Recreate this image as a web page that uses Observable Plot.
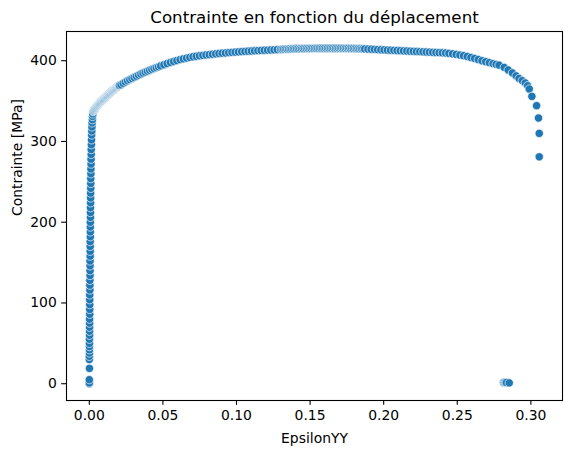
<!DOCTYPE html>
<html><head><meta charset="utf-8">
<script src="https://cdn.jsdelivr.net/npm/d3@7"></script>
<script src="https://cdn.jsdelivr.net/npm/@observablehq/plot@0.6"></script>
<style>body{margin:0;background:#fff}</style>
</head><body><div id="chart"></div>
<script>
const title = "Contrainte en fonction du déplacement";
const xLabel = "EpsilonYY";
const yLabel = "Contrainte [MPa]";
const xTicks = [0, 0.05, 0.10, 0.15, 0.20, 0.25, 0.30];
const yTicks = [0, 100, 200, 300, 400];

// Elastic part
const elasticStrain = [0.0000,0.0000,0.0000,0.0001,
 0.0000,0.0000,0.0001,0.0001,0.0001,0.0001,0.0001,0.0002,0.0002,0.0002,0.0002,0.0002,0.0003,0.0003,0.0003,0.0003,0.0003,
 0.0004,0.0004,0.0004,0.0005,0.0005,0.0005,0.0005,0.0006,0.0006,0.0006,0.0006,0.0007,0.0007,0.0007,0.0007,
 0.0008,0.0008,0.0008,0.0009,0.0009,0.0009,0.0010,0.0010,0.0010,0.0011,0.0011,0.0012,0.0012,0.0013,0.0013,0.0014,0.0015,
 0.0016,0.0017,0.0018,0.0019,0.0021,0.0022,0.0024];
const elasticStress = [0,1,5,19,
 30,34,38,42,46,50,55,60,65,70,75,80,86,92,98,104,110,
 116,122,128,134,140,146,152,158,164,170,176,182,188,194,200,
 206,212,218,224,230,236,242,248,254,260,266,272,278,284,290,296,302,
 308,313,318,323,327,331,334];

// Yield transition (dense points)
const yieldStrain = [0.0025,0.0028,0.0031,0.0034,0.0037,0.0040,0.0043,0.0046,0.0049,0.0052,0.0055,0.0058,0.0061,0.0064,0.0067,0.0070,0.0073,0.0076,0.0079,0.0082,0.0085,0.0088,0.0091,0.0094,0.0097,0.0100,0.0103,0.0106,0.0109,0.0112,0.0115,0.0118,0.0121,0.0124,0.0127,0.0130,0.0133,0.0136,0.0139,0.0142,0.0145,0.0148,0.0151,0.0154,0.0157,0.0160,0.0163,0.0166,0.0169,0.0172,0.0175,0.0178,0.0181,0.0184,0.0187,0.0190,0.0193,0.0196,0.0199,0.0202,0.0205];
const yieldStress = [337.0,337.8,338.6,339.4,340.2,341.0,341.7,342.4,343.1,343.8,344.4,345.0,345.7,346.3,346.9,347.5,348.1,348.7,349.3,349.9,350.4,350.9,351.4,351.9,352.4,353.0,353.5,354.1,354.6,355.1,355.6,356.2,356.7,357.2,357.7,358.2,358.7,359.2,359.7,360.3,360.7,361.2,361.6,362.1,362.5,363.0,363.4,363.9,364.4,364.8,365.3,365.7,366.2,366.6,367.0,367.5,367.9,368.3,368.7,369.1,369.5];

// Hardening and plateau
const plasticStrain = [0.0215,0.0230,0.0245,0.0260,0.0275,0.0290,0.0305,0.0320,0.0335,0.0350,0.0365,0.0380,0.0395,0.0410,0.0425,0.0440,0.0455,0.0470,0.0485,
 0.0507,0.0529,0.0551,0.0573,0.0595,0.0617,0.0639,0.0661,0.0683,0.0705,0.0727,0.0749,0.0771,0.0793,0.0815,0.0837,0.0859,0.0881,0.0903,0.0925,0.0947,0.0969,0.0991,0.1013,0.1035,0.1057,0.1079,0.1101,0.1123,0.1145,0.1167,0.1189,0.1211,0.1233,0.1255,0.1277,0.1299,
 0.1310,0.1321,0.1332,0.1343,0.1354,0.1365,0.1376,0.1387,0.1398,0.1409,0.1420,0.1431,0.1442,0.1453,0.1464,0.1475,0.1486,0.1497,0.1508,0.1519,0.1530,0.1541,0.1552,0.1563,0.1574,0.1585,0.1596,0.1607,0.1618,0.1629,0.1640,0.1651,0.1662,0.1673,0.1684,0.1695,0.1706,0.1717,0.1728,0.1739,0.1750,0.1761,0.1772,0.1783,0.1794,0.1805,0.1816,0.1827,0.1838,0.1849,0.1860,0.1871,
 0.1893,0.1915,0.1937,0.1959,0.1981,0.2003,0.2025,0.2047,0.2069,0.2091,0.2113,0.2135,0.2157,0.2179,0.2201,0.2223,0.2245,0.2267,0.2289,0.2311,0.2333,0.2355,0.2377,0.2399,0.2421,0.2443];
const plasticStress = [370.2,372.0,373.7,375.2,376.6,378.0,379.3,380.7,382.1,383.5,384.7,385.9,387.0,388.2,389.3,390.4,391.4,392.4,393.6,
 395.0,396.4,397.8,399.0,400.2,401.3,402.3,403.2,404.1,404.9,405.5,406.1,406.6,407.1,407.6,408.0,408.5,408.9,409.3,409.6,410.0,410.3,410.6,410.9,411.2,411.5,411.8,412.0,412.3,412.5,412.7,412.9,413.1,413.3,413.5,413.7,413.9,
 414.1,414.2,414.3,414.3,414.4,414.5,414.6,414.7,414.8,414.8,414.9,414.9,415.0,415.0,415.1,415.1,415.2,415.2,415.2,415.3,415.3,415.3,415.3,415.4,415.4,415.4,415.4,415.4,415.4,415.4,415.4,415.4,415.4,415.4,415.4,415.4,415.4,415.4,415.3,415.3,415.3,415.3,415.2,415.2,415.1,415.1,415.0,414.9,414.9,414.8,414.7,414.6,
 414.4,414.2,414.0,413.8,413.6,413.4,413.2,413.0,412.8,412.6,412.4,412.2,412.0,411.8,411.6,411.4,411.2,411.0,410.8,410.6,410.4,410.2,410.0,409.8,409.5,409.1];

// Necking until rupture
const neckStrain = [0.2468,0.2493,0.2518,0.2543,0.2568,0.2593,0.2618,0.2643,0.2668,0.2693,0.2718,0.2743,0.2764,0.2784,0.2819,0.2846,0.2875,0.2900,0.2920,0.2942,0.2962,0.2978,0.2989,0.3007,0.3039,0.3052,0.3057,0.3057];
const neckStress = [408.5,407.8,407.0,406.2,405.2,404.0,402.8,401.5,400.0,398.8,397.6,396.4,395.4,394.6,391.7,388.5,384.8,381.2,378.0,375.3,372.4,369.0,365.0,355.8,344.3,329.0,310.0,281.0];

// After rupture
const brokenStrain = [0.2814,0.2820,0.2827,0.2834,0.2853];
const brokenStress = [1.5,1.5,1.5,1.5,1.0];

const data = [];
[[elasticStrain, elasticStress],[yieldStrain, yieldStress],[plasticStrain, plasticStress],[neckStrain, neckStress],[brokenStrain, brokenStress]]
  .forEach(([xs, ys]) => xs.forEach((x, i) => data.push({x, y: ys[i]})));

const font = "DejaVu Sans";
const chart = Plot.plot({
  width: 571, height: 454,
  marginLeft: 66, marginRight: 9, marginTop: 31, marginBottom: 54,
  style: {fontFamily: font, fontSize: "13.9px", background: "white", color: "black"},
  x: {domain: [-0.0155, 0.3215]},
  y: {domain: [-20.77, 436.17]},
  marks: [
    Plot.dot(data, {x: "x", y: "y", r: 4.17, fill: "#1f77b4", stroke: "white", strokeWidth: 0.67}),
    Plot.frame({stroke: "black", strokeWidth: 1.1}),
    Plot.axisX({ticks: xTicks, tickFormat: d3.format(".2f"), tickSize: 4.86, tickPadding: 4.9, strokeWidth: 1.1, label: null, fontSize: 13.9}),
    Plot.axisY({ticks: yTicks, tickFormat: d3.format("d"), tickSize: 4.86, tickPadding: 4.9, strokeWidth: 1.1, label: null, fontSize: 13.9}),
    Plot.text([xLabel], {frameAnchor: "bottom", dy: 38, lineAnchor: "middle", fontSize: 13.9}),
    Plot.text([yLabel], {frameAnchor: "left", dx: -49, rotate: -90, lineAnchor: "middle", fontSize: 13.9}),
    Plot.text([title], {frameAnchor: "top", dy: -14, lineAnchor: "middle", fontSize: 16.7})
  ]
});
document.getElementById("chart").appendChild(chart);
</script>
</body></html>
